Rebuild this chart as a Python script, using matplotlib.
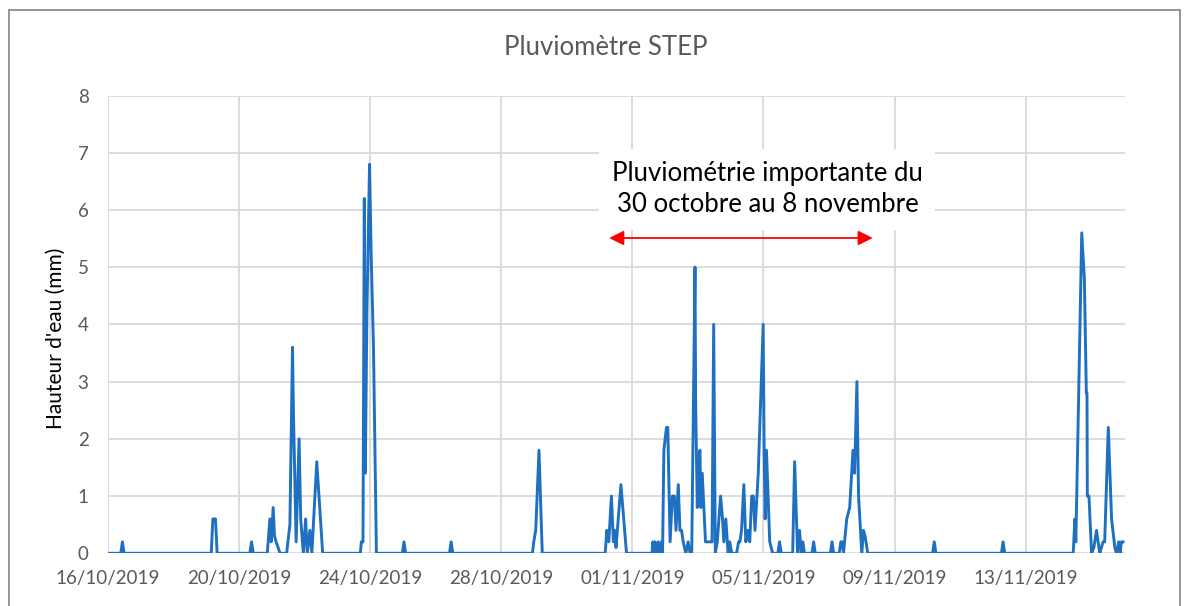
import numpy as np
import pandas as pd
import matplotlib
matplotlib.use('Agg')
import matplotlib.pyplot as plt
import matplotlib.dates as mdates
from matplotlib.patches import Rectangle

plt.rcParams['font.family'] = ['Lato', 'DejaVu Sans']

# jours depuis le 16/10/2019 00:00 et hauteur d'eau (mm)
debut = pd.Timestamp('2019-10-16')
jours = [0.00, 0.39, 0.44, 0.49,
         3.15, 3.20, 3.28, 3.33,
         4.33, 4.38, 4.43,
         4.86, 4.94, 4.98, 5.04, 5.08, 5.13, 5.25,
         5.45, 5.55, 5.63, 5.66, 5.74, 5.83, 5.88, 5.96, 6.03, 6.08, 6.16, 6.22, 6.37, 6.55,
         7.70, 7.73, 7.78, 7.82, 7.85, 7.90, 7.98, 8.03, 8.10, 8.19,
         8.98, 9.03, 9.08,
         10.42, 10.47, 10.52,
         12.95, 12.99, 13.05, 13.15, 13.25,
         15.17, 15.22, 15.28, 15.36, 15.42, 15.46, 15.50, 15.65, 15.82,
         16.60, 16.62, 16.66, 16.69, 16.74, 16.79, 16.84, 16.89, 16.92,
         16.96, 17.04, 17.08, 17.15, 17.22, 17.28, 17.33, 17.40, 17.45, 17.50, 17.55, 17.63, 17.70, 17.76, 17.81,
         17.91, 17.93, 17.98, 18.02, 18.06, 18.09, 18.13, 18.18, 18.23,
         18.43, 18.48, 18.53, 18.59, 18.69, 18.75, 18.79, 18.85, 18.92, 18.97, 19.03,
         19.18, 19.24, 19.28, 19.33, 19.40, 19.46, 19.53, 19.58, 19.64, 19.69, 19.74, 19.84,
         19.99, 20.02, 20.05, 20.09, 20.19, 20.28,
         20.44, 20.49, 20.54,
         20.89, 20.95, 21.04, 21.10, 21.15, 21.20, 21.25,
         21.48, 21.53, 21.58,
         22.04, 22.09, 22.14,
         22.31, 22.36, 22.40, 22.44, 22.54, 22.63, 22.73, 22.78, 22.85, 22.90, 23.00, 23.05, 23.10, 23.18,
         25.16, 25.21, 25.26,
         27.26, 27.31, 27.36,
         29.45, 29.50, 29.53, 29.71, 29.79, 29.85, 29.87, 29.88, 29.93,
         30.01, 30.08, 30.16, 30.26, 30.36, 30.41, 30.52, 30.62, 30.72, 30.77,
         30.84, 30.88, 30.92, 30.97]
hauteur = [0, 0, 0.2, 0,
           0, 0.6, 0.6, 0,
           0, 0.2, 0,
           0, 0.6, 0.2, 0.8, 0.3, 0.2, 0,
           0, 0.5, 3.6, 2.4, 0.2, 2.0, 0.6, 0, 0.6, 0, 0.4, 0, 1.6, 0,
           0, 0.2, 0.2, 6.2, 1.4, 4.2, 6.8, 5.2, 3.6, 0,
           0, 0.2, 0,
           0, 0.2, 0,
           0, 0.2, 0.4, 1.8, 0,
           0, 0.4, 0.2, 1.0, 0.2, 0.4, 0.1, 1.2, 0,
           0, 0.2, 0, 0.2, 0, 0.2, 0, 0.2, 0,
           1.8, 2.2, 2.2, 0.2, 1.0, 1.0, 0.4, 1.2, 0.4, 0.4, 0.2, 0, 0.2, 0, 0,
           5.0, 2.6, 0.8, 1.6, 1.8, 0.8, 1.4, 0.8, 0.2,
           0.2, 4.0, 0, 0.2, 1.0, 0.6, 0.2, 0.6, 0, 0.2, 0,
           0, 0.2, 0.2, 0.4, 1.2, 0.2, 0.4, 0.2, 1.0, 1.0, 0.4, 1.4,
           4.0, 1.8, 0.6, 1.8, 0.2, 0,
           0, 0.2, 0,
           0, 1.6, 0, 0.4, 0, 0.2, 0,
           0, 0.2, 0,
           0, 0.2, 0,
           0, 0.2, 0.2, 0, 0.6, 0.8, 1.8, 1.4, 3.0, 1.0, 0, 0.4, 0.3, 0,
           0, 0.2, 0,
           0, 0.2, 0,
           0, 0.6, 0.2, 5.6, 4.8, 2.8, 2.8, 1.0, 1.0,
           0, 0.1, 0.4, 0, 0.2, 0.2, 2.2, 0.6, 0.1, 0,
           0.2, 0, 0.2, 0.2]

dates_ticks = pd.date_range('2019-10-16', periods=8, freq='4D')
fleche_debut = pd.Timestamp('2019-10-31 07:00')
fleche_fin = pd.Timestamp('2019-11-08 08:00')
texte = "Pluviométrie importante du\n30 octobre au 8 novembre"

t = debut + pd.to_timedelta(jours, unit='D')

fig = plt.figure(figsize=(11.92, 6.06), dpi=100)
ax = fig.add_axes([0.0906, 0.087, 0.8532, 0.7554])

ax.plot(t, hauteur, color='#1f70c1', lw=2.1, zorder=3)

ax.set_ylim(0, 8)
ax.set_xlim(debut, debut + pd.Timedelta(days=31.03))
ax.set_xticks(dates_ticks)
ax.xaxis.set_major_formatter(mdates.DateFormatter('%d/%m/%Y'))
ax.set_yticks(range(0, 9))
ax.grid(color='#d9d9d9', lw=1.3)
ax.set_axisbelow(True)
for s in ax.spines.values():
    s.set_visible(False)
ax.tick_params(axis='both', length=0, labelsize=13.5, colors='#595959')
ax.tick_params(axis='x', pad=12)
ax.tick_params(axis='y', pad=14)

fig.text(0.508, 0.922, 'Pluviomètre STEP', ha='center', va='center',
         fontsize=18.5, color='#595959')
fig.text(0.047, 0.442, "Hauteur d'eau (mm)", ha='center', va='center',
         rotation=90, fontsize=15, color='black')

ax.text(debut + pd.Timedelta(days=20.12), 6.36, texte, ha='center', va='center',
        fontsize=18.5, color='black', linespacing=1.3,
        bbox=dict(facecolor='white', edgecolor='none', pad=9), zorder=4)
ax.annotate('', xy=(fleche_debut, 5.51), xytext=(fleche_fin, 5.51),
            arrowprops=dict(arrowstyle='<|-|>', color='red', lw=1.3,
                            mutation_scale=22, shrinkA=0, shrinkB=0), zorder=5)

fig.add_artist(Rectangle((9 / 1192, -0.1), (1180 - 9) / 1192, 1.1 - 10 / 606,
                         transform=fig.transFigure, fill=False,
                         edgecolor='#8c8c8c', lw=1.3))

fig.savefig('out.png', dpi=100)
